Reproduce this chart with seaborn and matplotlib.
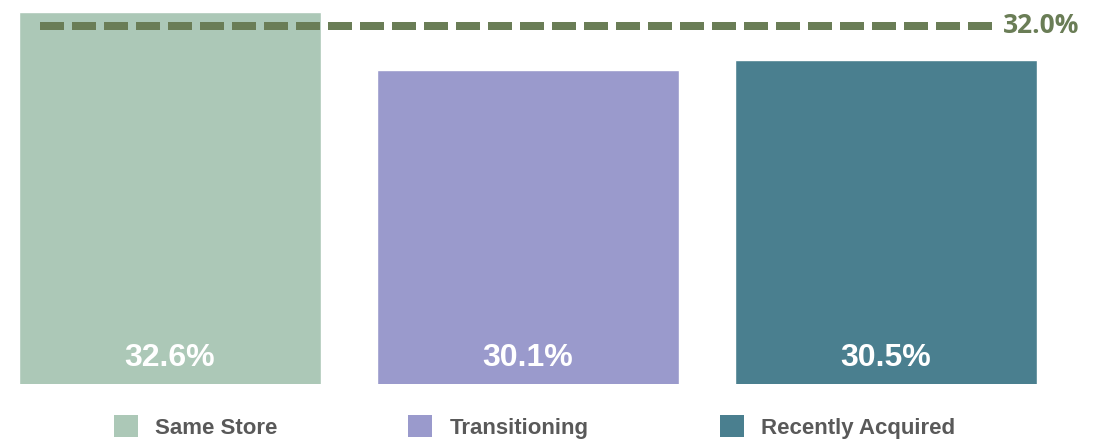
import matplotlib
matplotlib.use("Agg")
import matplotlib.pyplot as plt
from matplotlib.patches import Patch
import seaborn as sns

# Data
categories = ["Same Store", "Transitioning", "Recently Acquired"]
values = [32.6, 30.1, 30.5]
labels = ["32.6%", "30.1%", "30.5%"]
benchmark = 32.0
benchmark_label = "32.0%"

colors = ["#acc8b7", "#9a9acc", "#4a7f8f"]
line_color = "#6a7d56"
legend_text_color = "#595959"

sns.set_theme(style="white")
plt.rcParams["font.family"] = ["Liberation Sans", "DejaVu Sans"]

fig = plt.figure(figsize=(11.04, 4.42), dpi=100)
ax = fig.add_axes([0.0, 58.3 / 442, 1.0, 383.7 / 442])

sns.barplot(x=categories, y=values, hue=categories, palette=colors,
            width=0.844, legend=False, saturation=1, ax=ax)

ax.set_xlim(-0.475, 2.609)
ax.set_ylim(16.6, 33.1)
ax.axis("off")

# Value labels inside the bars, near the bottom
for i, lab in enumerate(labels):
    ax.text(i, 0.068, lab, transform=ax.get_xaxis_transform(),
            ha="center", va="center", color="white",
            fontsize=23, fontweight="bold")

# Benchmark dashed line with its label
ax.plot([-0.363, 2.297], [benchmark, benchmark], color=line_color,
        linewidth=5.76, linestyle=(0, (3, 1)), solid_capstyle="butt",
        dash_capstyle="butt")
ax.text(2.327, benchmark, benchmark_label, ha="left", va="center",
        color=line_color, fontsize=19, fontweight="bold",
        family=["Open Sans", "DejaVu Sans"])

# Legend along the bottom
handles = [Patch(facecolor=c, edgecolor="none", label=n)
           for c, n in zip(colors, categories)]
leg = fig.legend(handles=handles, loc="center", bbox_to_anchor=(0.484, 15 / 442),
                 ncol=3, frameon=False, handlelength=1.08, handleheight=1.08,
                 handletextpad=0.77, columnspacing=5.9,
                 prop={"weight": "bold", "size": 16})
for t in leg.get_texts():
    t.set_color(legend_text_color)

fig.savefig("out.png", dpi=100)
